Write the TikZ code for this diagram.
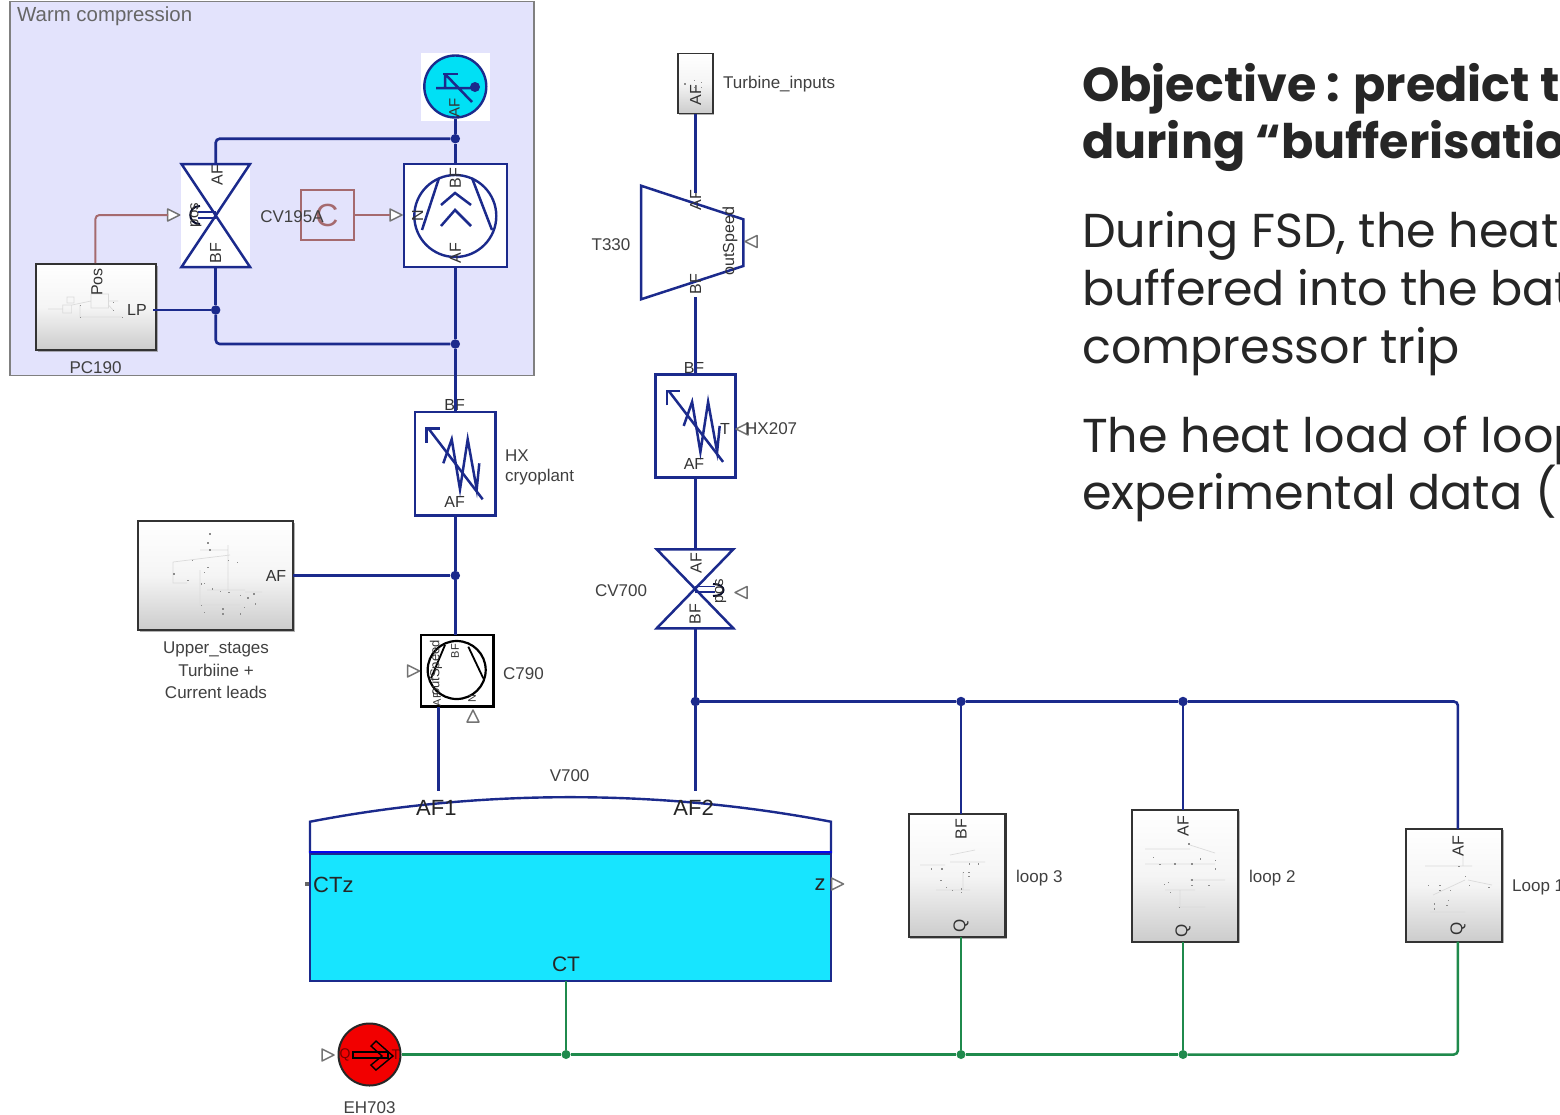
\documentclass[tikz,border=0pt]{standalone}
\usepackage{fontspec}
\setmainfont{Liberation Sans}
\newfontfamily\popfont{Poppins}
\usetikzlibrary{shadows}
\definecolor{navyline}{HTML}{1B2A8C}
\definecolor{sigline}{HTML}{A56A6E}
\definecolor{greenline}{HTML}{1F8A4C}
\definecolor{warmfill}{HTML}{E3E3FC}
\definecolor{tankcyan}{HTML}{17E5FF}
\definecolor{sensorcyan}{HTML}{00E0F5}
\definecolor{labelgray}{HTML}{404040}
\definecolor{textdark}{HTML}{262626}
\newcommand\fsz[1]{\fontsize{#1}{#1}\selectfont}
\tikzset{
  pipe/.style={draw=navyline,line width=2.6pt,rounded corners=4pt},
  sig/.style={draw=sigline,line width=2pt,rounded corners=4pt},
  heat/.style={draw=greenline,line width=2.5pt,rounded corners=4pt},
  junc/.style={circle,fill=navyline,inner sep=0pt,minimum size=9.5pt},
  gjunc/.style={circle,fill=greenline,inner sep=0pt,minimum size=9pt},
  porttri/.style={draw=black!55,fill=white,line width=1.5pt,line join=round},
  sym/.style={draw=navyline,line width=2.5pt,line join=miter},
  lbl/.style={inner sep=0pt,text=labelgray,font=\fsz{17},yshift=-1.2pt},
  lblw/.style={lbl,anchor=west},
  port/.style={inner sep=0pt,text=black!80,font=\fsz{16}},
  rport/.style={port,rotate=90},
  bigport/.style={inner sep=0pt,text=black!85,font=\fsz{22}},
  body/.style={inner sep=0pt,anchor=base west,text=textdark,font=\popfont\fsz{47.6}},
  head/.style={inner sep=0pt,anchor=base west,text=textdark,font=\popfont\bfseries\fsz{47.6}},
  blk/.style={draw=black!80,line width=2.2pt,inner sep=0pt,top color=white,bottom color=black!20,middle color=black!4,
     drop shadow={shadow xshift=1.5pt,shadow yshift=-1.5pt,fill=black!50,opacity=.6}},
  whitebox/.style={draw=navyline,line width=2.6pt,fill=white,inner sep=0pt},
  thumbd/.style={fill=black!45},
  thumbl/.style={draw=black!14,line width=.7pt},
}
\newcommand\ptri[3]{\draw[porttri,shift={(#1,#2)},rotate=#3] (-6,-6)--(6,0)--(-6,6)--cycle;}
\newcommand\hxsym[2]{\begin{scope}[shift={(#1,#2)}]
  \draw[sym] (482.7,499.3)--(428.3,428.3);
  \draw[sym] (426.7,442.7)--(426.7,428.3)--(440,428.3);
  \draw[sym] (443.3,463.3)--(451.7,439.3)--(460,489.3)--(467.7,439.3)--(476.7,489.3)--(479.3,463.3);
\end{scope}}
\newcommand\thumbdots[4]{\foreach \a/\b in {#4} \fill[thumbd] ({#1+\a*#3},{#2+\b/3}) rectangle ++(1.3,1.3);}
\begin{document}
\begin{tikzpicture}[x=1pt,y=-1pt]
\path[use as bounding box,fill=white] (0,0) rectangle (1560,1114);
\clip (0,0) rectangle (1560,1114);

% ---------- warm compression group
\node[draw=black!50,line width=1.8pt,fill=warmfill,minimum width=524.5pt,minimum height=374pt,inner sep=0pt] (warm) at (272,188.5) {};
\node[inner sep=0pt,anchor=west,text=black!60,font=\fsz{20.4},yshift=-1.2pt] (warmlbl) at (17,15) {Warm compression};

% sensor
\node[fill=white,minimum width=69pt,minimum height=68pt,inner sep=0pt] (sensbg) at (455.5,87) {};
\node[circle,draw=navyline,line width=2.4pt,fill=sensorcyan,minimum size=62pt,inner sep=0pt] (sensor) at (455.3,86.5) {};
\draw[sym] (443,74)--(458,74);
\draw[sym] (445,74)--(445,88) (436,88)--(475,88) (445,74)--(472,102);
\fill[navyline] (475,87) circle (5);
\node[rport,font=\fsz{15}] (sensaf) at (454.5,108) {AF};

% valve CV195A
\node[fill=white,minimum width=68.5pt,minimum height=103pt,inner sep=0pt] (cva) at (215.7,215.5) {};
\draw[sym] (181.5,164)--(250,164)--(181.5,267)--(250,267)--cycle;
\draw[navyline,line width=1.6pt] (198,212)--(215.7,212) (198,218)--(215.7,218);
\draw[black!70!navyline,line width=2pt] (200,206) .. controls (187,206) and (187,224) .. (200,224);
\node[rport,font=\fsz{15}] (cvapos) at (196,215) {pos};
\node[rport] (cvaaf) at (217,175) {AF};
\node[rport] (cvabf) at (215.5,253) {BF};

% compressor
\node[whitebox,minimum width=103pt,minimum height=103pt] (comp) at (455.3,215.5) {};
\node[circle,draw=navyline,line width=2.4pt,minimum size=82pt,inner sep=0pt] (compc) at (455.3,216) {};
\draw[sym] (441,205)--(455,193)--(471,205) (441,226)--(455,210)--(471,226);
\draw[sym] (439,178)--(422,230) (472,178)--(492,230);
\node[rport] (compbf) at (455.3,178) {BF};
\node[rport] (compaf) at (455.3,253) {AF};
\node[rport] (compn) at (417.7,216) {N};

% gain block
\node[draw=sigline,line width=2pt,minimum width=53pt,minimum height=50pt,inner sep=0pt] (gain) at (327,215) {};
\node[inner sep=0pt,text=sigline,font=\fsz{32}] (gainc) at (327,215) {C};
\node[lbl] (cvalbl) at (292,215) {CV195A};

% PC190
\node[blk,minimum width=120pt,minimum height=86pt] (pc) at (96,307) {};
\draw[thumbl] (62.7,305) rectangle (71.6,313) (91,294) rectangle (108.5,308) (67,297) rectangle (74,303)
  (48,309)--(63,309) (72,305)--(91,301) (80,305)--(80,317)--(122,317) (108,301)--(118,301) (108.5,305)--(113,310);
\thumbdots{0}{0}{1}{80/915,113/906,113/930,122/951,80/951}
\node[rport] (pcpos) at (97,282) {Pos};
\node[port] (pclp) at (137,310) {LP};
\node[lbl] (pclbl) at (95.5,366) {PC190};
\coordinate (pcposp) at (95.4,263);
\coordinate (pclpp) at (153,310);

% internal ports
\coordinate (cvain) at (168,215);
\coordinate (compin) at (390,215);
\ptri{173.7}{215}{0}
\ptri{396}{215}{0}

% ---------- HX cryoplant
\node[whitebox,minimum width=80.4pt,minimum height=103.7pt] (hx) at (455.3,463.8) {};
\hxsym{0}{0}
\node[port] (hxbf) at (454.6,404.5) {BF};
\node[port] (hxaf) at (454.7,501.5) {AF};
\node[lblw] (hxl1) at (505,454) {HX};
\node[lblw] (hxl2) at (505,476) {cryoplant};

% ---------- Upper stages
\node[blk,minimum width=155pt,minimum height=109pt] (upper) at (215.8,575.5) {};
\draw[thumbl] (173,562)--(173,583)--(187,583) (173,562)--(230,555) (200,550)--(228,550) (200,570)--(200,605)--(240,605) (228,545)--(228,590) (245,592)--(262,592) (207,590)--(245,590);
\thumbdots{130}{510}{.3333}{238/70,232/97,238/118,185/150,293/150,320/155,130/190,172/210,232/170,222/185,212/220,222/218,245/235,270/243,295/245,212/285,222/305,277/295,277/310,330/255,352/262,370/250,342/290,330/310,375/280}
\node[port] (upaf) at (276,575.5) {AF};
\coordinate (upafp) at (293,575.5);
\node[lbl] (upl1) at (216,648) {Upper\_stages};
\node[lbl] (upl2) at (216,669) {Turbiine +};
\node[lbl] (upl3) at (216,691) {Current leads};

% ---------- C790
\node[draw=black,line width=2.4pt,fill=white,minimum width=72.6pt,minimum height=71.7pt,inner sep=0pt] (cs) at (457,670.8) {};
\node[circle,draw=black,line width=2.2pt,minimum size=58pt,inner sep=0pt] (csc) at (456.7,670) {};
\draw[black,line width=1.8pt] (445,645)--(431,678.3) (468.3,646.7)--(483.3,678.3);
\node[rport,font=\fsz{13}] (csout) at (436,668) {outSpeed};
\node[rport,font=\fsz{11}] (csbf) at (455,651) {BF};
\node[rport,font=\fsz{11}] (csaf) at (437,699) {AF};
\node[rport,font=\fsz{11}] (csn) at (472,699) {N};
\node[lbl] (cslbl) at (523.5,672) {C790};
\ptri{413.5}{671}{0}
\ptri{473}{716}{90}
\coordinate (cstop) at (455.3,635);
\coordinate (csbot) at (438.7,707);

% ---------- turbine branch
\node[blk,line width=1.6pt,minimum width=35pt,minimum height=60pt] (tin) at (695.4,83.3) {};
\thumbdots{580}{40}{.3333}{313/130,342/120,362/125,362/140,342/140}
\node[rport] (tinaf) at (695.5,95) {AF};
\node[lblw] (tinl) at (723,83) {Turbine\_inputs};
\coordinate (t330a) at (695.4,193);
\draw[sym,fill=white] (641,185.7)--(743.3,219.3)--(743.3,266)--(641,299.3)--cycle;
\node[rport] (taf) at (695.5,200) {AF};
\node[rport] (tbf) at (695.5,284) {BF};
\node[rport] (tout) at (730,241) {outSpeed};
\node[lbl] (tlbl) at (611,243) {T330};
\ptri{751}{241.5}{180}
\coordinate (t330b) at (695.4,297);

\node[whitebox,minimum width=79.6pt,minimum height=103pt] (hxb) at (695.4,426.2) {};
\hxsym{240.4}{-37.4}
\node[port] (hxbbf) at (694,367.5) {BF};
\node[port] (hxbaf) at (694,463.5) {AF};
\node[port] (hxbt) at (725,429) {T};
\ptri{742}{429}{180}
\node[lblw] (hxbl) at (745,427) {HX207};

\draw[sym] (656.7,549.3)--(733.3,549.3)--(656.7,628.3)--(733.3,628.3)--cycle;
\coordinate (cvbt) at (695.4,549.3);
\coordinate (cvbb) at (695.4,628.3);
\draw[navyline,line width=1.6pt] (695.2,586.5)--(715,586.5) (695.2,592)--(715,592);
\draw[black!70!navyline,line width=2pt] (713,584) .. controls (727,584) and (727,596) .. (713,596);
\node[rport,font=\fsz{15}] (cvbpos) at (720.7,591) {pos};
\node[rport] (cvbaf) at (696,563) {AF};
\node[rport] (cvbbf) at (695,614) {BF};
\node[lbl] (cvbl) at (621,589) {CV700};
\ptri{741}{592.5}{180}

% ---------- tank
\node[lbl] (vlbl) at (569.6,774) {V700};
\draw[navyline,line width=2.4pt,fill=white] (310,853.3)--(310,821.7) .. controls (480,789) and (660,789) .. (831,821.7)--(831,853.3);
\node[draw=navyline,line width=2.4pt,fill=tankcyan,minimum width=521pt,minimum height=127.7pt,inner sep=0pt] (tank) at (570.3,917.2) {};
\draw[draw=blue!85!navyline,line width=2pt] (tank.north west)--(tank.north east);
\node[bigport] (af1) at (436.4,807.5) {AF1};
\node[bigport] (af2) at (693.6,807.5) {AF2};
\node[bigport,anchor=west] (ctz) at (313,884.5) {CTz};
\node[bigport] (zz) at (820,884.5) {z};
\node[bigport,font=\fsz{21}] (ct) at (566,964.5) {CT};
\node[fill=black!60,minimum size=4pt,inner sep=0pt] (ctzp) at (307,884) {};
\ptri{837.5}{884}{0}
\coordinate (tanka) at (438.7,791);
\coordinate (tankb) at (695.4,791);
\coordinate (tankc) at (566,981);

% ---------- EH703
\node[circle,draw=black!85,line width=2pt,fill=red!95!black,minimum size=62pt,inner sep=0pt] (eh) at (369.5,1054.5) {};
\draw[black,line width=1.4pt] (353,1052) rectangle (388,1058);
\draw[black,line width=1.4pt] (376,1041)--(393,1056)--(376,1070)--(371,1065)--(382,1056)--(371,1046)--cycle;
\node[inner sep=0pt,text=red!45!black,font=\fsz{14}] (ehq) at (345,1055) {Q};
\node[inner sep=0pt,text=red!45!black,font=\fsz{14}] (eht) at (396,1055) {T};
\ptri{328}{1055}{0}
\node[lbl] (ehl) at (369.6,1106) {EH703};

% ---------- loops
\node[blk,minimum width=96.6pt,minimum height=123.3pt] (l3) at (957.1,875.6) {};
\draw[thumbl] (920,865)--(945,865) (950,862)--(985,862) (936,890)--(970,890) (963,872)--(963,890) (950,855)--(975,850);
\thumbdots{890}{790}{.4274}{95/235,120/235,118/270,130/290,145/300,165/295,165/305,185/220,205/220,183/245,183/258,170/245}
\node[rport] (l3bf) at (961,829) {BF};
\node[rport,font=\fsz{17}] (l3q) at (961,926) {Q};
\node[lblw] (l3l) at (1016,877) {loop 3};

\node[blk,minimum width=106.4pt,minimum height=131.7pt] (l2) at (1185.1,875.8) {};
\draw[thumbl] (1145,849)--(1190,849) (1145,864)--(1215,864) (1190,845)--(1215,853) (1190,880)--(1225,880) (1165,890)--(1195,890) (1178,907)--(1205,907) (1180,890)--(1180,907);
\thumbdots{890}{790}{.4274}{615/200,630/222,665/220,705/220,725/205,760/210,760/235,705/268,705/285,745/285,650/275,640/282,655/305,675/350,698/160}
\node[rport] (l2af) at (1183,826) {AF};
\node[rport,font=\fsz{17}] (l2q) at (1183,931) {Q};
\node[lblw] (l2l) at (1249,877) {loop 2};

\node[blk,minimum width=96.2pt,minimum height=112.7pt] (l1) at (1453.9,885.3) {};
\draw[thumbl] (1425,866)--(1472,866) (1430,912)--(1465,912) (1468,880)--(1492,885) (1433,895)--(1465,880) (1463,855)--(1463,866);
\thumbdots{890}{790}{.4274}{1258/285,1285/285,1285/300,1310/300,1305/330,1272/340,1272/355,1302/345,1345/258,1355/285,1400/290,1330/228}
\node[rport] (l1af) at (1458,846) {AF};
\node[rport,font=\fsz{17}] (l1q) at (1458,929) {Q};
\node[lblw] (l1l) at (1512,886) {Loop 1};

\coordinate (l3t) at (961,814);
\coordinate (l3b) at (961,937.3);
\coordinate (l2t) at (1183,810);
\coordinate (l2b) at (1183,941.7);
\coordinate (l1t) at (1457.9,829);
\coordinate (l1b) at (1457.9,941.7);

% ---------- junctions
\node[junc] (j1) at (455.3,138.7) {};
\node[junc] (j2) at (455.3,344) {};
\node[junc] (j3) at (215.7,310) {};
\node[junc] (j4) at (455.3,575.5) {};
\node[junc] (j5) at (695.4,701.5) {};
\node[junc] (j6) at (961,701.5) {};
\node[junc] (j7) at (1183,701.5) {};
\node[gjunc] (g1) at (566,1054.5) {};
\node[gjunc] (g2) at (961,1054.5) {};
\node[gjunc] (g3) at (1183,1054.5) {};

% ---------- connectors
\draw[pipe] (sensor.south)--(j1)--(comp.north);
\draw[pipe] (j1) -| (cva.north);
\draw[pipe] (cva.south)--(j3);
\draw[pipe] (j3) |- (j2);
\draw[pipe] (pclpp)--(j3);
\draw[pipe] (comp.south)--(j2)--(hx.north);
\draw[pipe] (hx.south)--(j4)--(cstop);
\draw[pipe] (upafp)--(j4);
\draw[pipe] (csbot)--(tanka);
\draw[pipe] (tin.south)--(t330a);
\draw[pipe] (t330b)--(hxb.north);
\draw[pipe] (hxb.south)--(cvbt);
\draw[pipe] (cvbb)--(j5)--(tankb);
\draw[pipe] (j5)--(j6)--(j7);
\draw[pipe] (j7) -| (l1t);
\draw[pipe] (j6)--(l3t);
\draw[pipe] (j7)--(l2t);
\draw[sig] (pcposp) |- (cvain);
\draw[sig] (gain.east)--(compin);
\draw[heat] (tankc)--(g1);
\draw[heat] (eh.east)--(g1)--(g2)--(g3);
\draw[heat] (g3) -| (l1b);
\draw[heat] (g2)--(l3b);
\draw[heat] (g3)--(l2b);

% ---------- text panel
\node[head] (t1) at (1082,101) {Objective : predict t};
\node[head] (t2) at (1082,158) {during “bufferisatio};
\node[body] (t3) at (1082,247.5) {During FSD, the heat};
\node[body] (t4) at (1082,305.5) {buffered into the bat};
\node[body] (t5) at (1082,363) {compressor trip};
\node[body] (t6) at (1082,452) {The heat load of loop};
\node[body] (t7) at (1082,509.5) {experimental data (};
\end{tikzpicture}
\end{document}
